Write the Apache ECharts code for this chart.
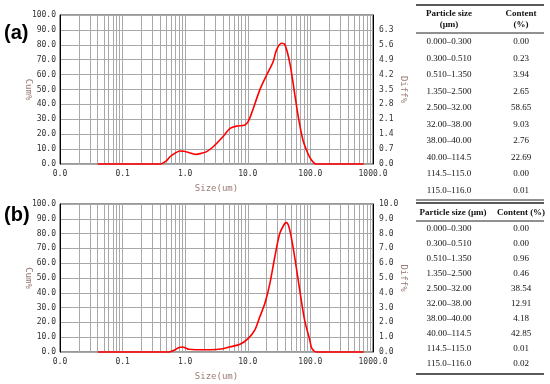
<!DOCTYPE html>
<html><head><meta charset="utf-8">
<script src="https://cdn.jsdelivr.net/npm/echarts@6/dist/echarts.min.js"></script>
<style>html,body{margin:0;padding:0;background:#fff}#c{width:550px;height:384px}</style>
</head><body><div id="c"></div>
<script>
// Panel (a): particle size (um) and differential content (%)
const sizeA = [0.04, 0.4, 0.5, 0.57, 0.7, 0.82, 0.95, 1.2, 1.5, 1.8, 2.2, 2.8, 4.0, 5.2, 6.6, 9.0, 10.1, 11.5, 15.5, 20, 25.4, 28.7, 34.5, 39, 47, 56, 64, 76, 92, 104, 122, 710];
const diffA = [0, 0, 0.15, 0.34, 0.52, 0.61, 0.6, 0.52, 0.45, 0.5, 0.58, 0.81, 1.28, 1.67, 1.78, 1.83, 1.99, 2.38, 3.47, 4.18, 4.8, 5.35, 5.67, 5.62, 4.73, 3.32, 2.22, 1.13, 0.47, 0.19, 0, 0];
// Panel (b)
const sizeB = [0.04, 0.55, 0.65, 0.8, 0.9, 1.0, 1.15, 1.5, 2.5, 4, 5.2, 7.5, 10.1, 12.9, 15.5, 18.7, 22.5, 27, 32.4, 39, 41.5, 47, 56, 67.6, 81, 98, 106, 128, 710];
const diffB = [0, 0, 0.1, 0.3, 0.34, 0.28, 0.18, 0.15, 0.15, 0.22, 0.35, 0.52, 0.9, 1.47, 2.36, 3.27, 4.62, 6.42, 8.0, 8.68, 8.74, 8.22, 6.42, 4.17, 2.14, 0.79, 0.23, 0, 0];
// Tables
const ranges = ['0.000\u20130.300', '0.300\u20130.510', '0.510\u20131.350', '1.350\u20132.500', '2.500\u201332.00', '32.00\u201338.00', '38.00\u201340.00', '40.00\u2013114.5', '114.5\u2013115.0', '115.0\u2013116.0'];
const contentA = ['0.00', '0.23', '3.94', '2.65', '58.65', '9.03', '2.76', '22.69', '0.00', '0.01'];
const contentB = ['0.00', '0.00', '0.96', '0.46', '38.54', '12.91', '4.18', '42.85', '0.01', '0.02'];
const panelLabels = ['(a)', '(b)'];

const chart = echarts.init(document.getElementById('c'));
const mono = 'DejaVu Sans Mono';
const labelColor = '#333';
const nameColor = '#9a7a74';
const gridColor = '#a8a8a8';

function zip(xs, ys) { return xs.map((x, i) => [x, ys[i]]); }

const grids = [
  { left: 60, top: 15, width: 313, height: 149, show: true, borderColor: '#333', borderWidth: 1, z: 0 },
  { left: 60, top: 204, width: 313, height: 148, show: true, borderColor: '#333', borderWidth: 1, z: 0 }
];
const rightMax = [7, 10];
const rightInt = [0.7, 1];

const xAxes = [0, 1].map(i => ({
  type: 'log', logBase: 10, min: 0.01, max: 1000, gridIndex: i, z: 0,
  axisLine: { show: false },
  axisTick: { show: false },
  minorTick: { show: false, splitNumber: 9 },
  splitLine: { show: true, lineStyle: { color: gridColor, width: 1 } },
  minorSplitLine: { show: true, lineStyle: { color: gridColor, width: 1 } },
  axisLabel: { formatter: v => Number(v).toFixed(1), fontFamily: mono, fontSize: 8, color: labelColor, margin: 6 },
  name: 'Size(um)', nameLocation: 'middle', nameGap: 20, nameMoveOverlap: false,
  nameTextStyle: { color: nameColor, fontFamily: mono, fontSize: 9 }
}));

const yAxes = [];
[0, 1].forEach(i => {
  yAxes.push({
    type: 'value', gridIndex: i, min: 0, max: 100, interval: 10, position: 'left', z: 0,
    axisLine: { show: true, lineStyle: { color: '#000' } },
    axisTick: { show: false },
    splitLine: { show: true, lineStyle: { color: gridColor } },
    axisLabel: { formatter: v => Number(v).toFixed(1), fontFamily: mono, fontSize: 8, color: labelColor, margin: 4 },
    name: 'Cum%', nameLocation: 'middle', nameRotate: -90, nameGap: 27, nameMoveOverlap: false,
    nameTextStyle: { color: nameColor, fontFamily: mono, fontSize: 9 }
  });
  yAxes.push({
    type: 'value', gridIndex: i, min: 0, max: rightMax[i], interval: rightInt[i], position: 'right', z: 0,
    axisLine: { show: true, lineStyle: { color: '#000' } },
    axisTick: { show: false },
    splitLine: { show: false },
    axisLabel: { formatter: v => Number(v).toFixed(1), fontFamily: mono, fontSize: 8, color: labelColor, margin: 6, showMaxLabel: i === 1 },
    name: 'Diff%', nameLocation: 'middle', nameRotate: -90, nameGap: 26, nameMoveOverlap: false,
    nameTextStyle: { color: nameColor, fontFamily: mono, fontSize: 9 }
  });
});

const series = [[sizeA, diffA], [sizeB, diffB]].map((d, i) => ({
  type: 'line', xAxisIndex: i, yAxisIndex: 2 * i + 1, data: zip(d[0], d[1]),
  showSymbol: false, smooth: 0.3, animation: false, clip: false,
  lineStyle: { color: '#ff0000', width: 1.6 }, z: 20
}));

// Tables
const graphic = [];
const serif = 'Liberation Serif';
function hline(y, w) {
  graphic.push({ type: 'line', shape: { x1: 416, y1: y, x2: 544, y2: y }, style: { stroke: '#222', lineWidth: w } });
}
function txt(s, x, y, bold, size) {
  graphic.push({ type: 'text', style: { text: s, x: x, y: y, fill: '#111', font: (bold ? 'bold ' : '') + (size || 9) + 'px "' + serif + '"', align: 'center', verticalAlign: 'middle', textAlign: 'center', textVerticalAlign: 'middle' } });
}
const c1 = 449, c2 = 521;
// table (a)
hline(5, 1.5);
txt('Particle size', c1, 14, true); txt('(\u03bcm)', c1, 25, true);
txt('Content', c2, 14, true); txt('(%)', c2, 25, true);
hline(33, 1);
ranges.forEach((r, k) => { const y = 42 + 16.5 * k; txt(r, c1, y); txt(contentA[k], c2, y); });
hline(200, 1);
// table (b)
hline(203, 1.5);
txt('Particle size (\u03bcm)', 453, 213, true); txt('Content (%)', c2, 213, true);
hline(221, 1);
ranges.forEach((r, k) => { const y = 229 + 15 * k; txt(r, c1, y); txt(contentB[k], c2, y); });
hline(374, 1.5);
// panel labels
graphic.push({ type: 'text', style: { text: panelLabels[0], x: 4, y: 33, font: 'bold 20px "Liberation Sans"', fill: '#000', verticalAlign: 'middle', textVerticalAlign: 'middle' } });
graphic.push({ type: 'text', style: { text: panelLabels[1], x: 4, y: 215, font: 'bold 20px "Liberation Sans"', fill: '#000', verticalAlign: 'middle', textVerticalAlign: 'middle' } });

chart.setOption({
  animation: false,
  backgroundColor: '#fff',
  grid: grids, xAxis: xAxes, yAxis: yAxes, series: series, graphic: graphic
});
</script></body></html>
